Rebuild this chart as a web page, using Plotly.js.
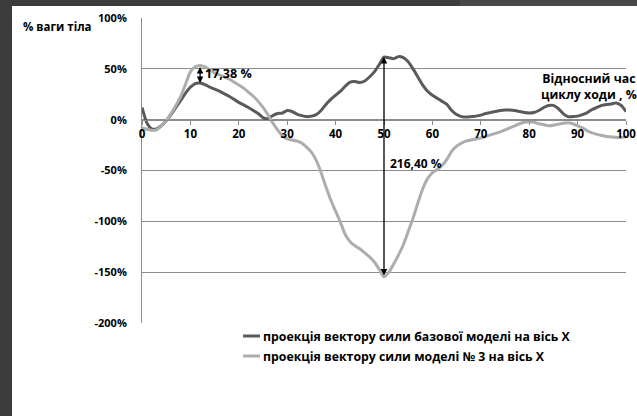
<!DOCTYPE html>
<html>
<head>
<meta charset="utf-8">
<script src="https://cdn.plot.ly/plotly-3.0.1.min.js"></script>
<style>
  html, body { margin: 0; padding: 0; background: #ffffff; overflow: hidden; width: 637px; height: 416px; }
  * { scrollbar-width: none; }
  ::-webkit-scrollbar { display: none; width: 0; height: 0; }
  #wrap { position: relative; width: 637px; height: 416px; overflow: hidden; }
  #chart { position: absolute; left: 0; top: 0; width: 637px; height: 416px; overflow: hidden; }
  .edge { position: absolute; background: #3c3c3c; }
  #edge-left { left: 0; top: 0; width: 12px; height: 416px; }
  #edge-top { left: 0; top: 0; width: 460px; height: 6px; }
  #edge-top-right { left: 460px; top: 0; width: 177px; height: 6px; background: #484848; }
</style>
</head>
<body>
<div id="wrap">
  <div id="chart"></div>
  <div class="edge" id="edge-left"></div>
  <div class="edge" id="edge-top"></div>
  <div class="edge" id="edge-top-right"></div>
</div>
<script>
// Gait cycle, % (0..100)
const cyclePct = Array.from({length: 101}, (_, i) => i);

// Force vector projection on X axis, base model (% of body weight)
const baseModel = [
  12, -3, -9, -9, -6, -1, 5, 12, 19, 26,
  32, 35.5, 36, 34.5, 32, 30, 28, 25.5, 23, 20,
  17, 14.5, 12, 9, 6, 2, 1, 4, 6, 6.5,
  9, 8, 5.5, 4, 3, 3.5, 5, 9, 15, 20,
  24, 28, 33, 37, 37.5, 36.5, 38, 42, 47, 54,
  61.6, 61, 60, 62, 61, 57, 50, 42, 34, 28,
  24, 21, 18, 15, 9, 5, 3, 2.5, 3, 3.5,
  4.5, 6, 7, 8, 9, 9.5, 9.5, 9, 8, 7,
  6.5, 7, 9, 12, 14, 14, 11, 6, 3, 3,
  3.5, 5, 7, 10, 12, 14, 15, 15.5, 16.5, 14,
  8
];

// Force vector projection on X axis, model No. 3 (% of body weight)
const model3 = [
  -8, -9.5, -10.5, -10, -6, -1, 6, 14, 23, 35,
  47, 52, 53.38, 52, 49, 46, 44, 42, 40, 37,
  34, 31, 27, 23, 18, 12, 5, -3, -10, -16,
  -19, -20, -21, -23, -27, -32, -40, -52, -66, -79,
  -90, -101, -113, -120, -124, -127, -131, -135, -140, -147,
  -154.8, -150, -142, -133, -123, -110, -97, -82, -68, -58,
  -52, -49, -45, -39, -31, -26, -23, -21, -20, -19,
  -18, -16.5, -15, -13.5, -12, -10, -8, -6, -4, -2.5,
  -2, -2.5, -4, -5, -6, -5.5, -4.5, -3.5, -3, -4,
  -6, -8, -11, -13, -14.5, -15.5, -16.5, -17, -17.5, -17.5,
  -17
];

const seriesNames = [
  'проекція вектору сили базової моделі на вісь X',
  'проекція вектору сили моделі № 3 на вісь X'
];
const seriesColors = ['#5a5a5a', '#adadad'];

const xTicks = [0, 10, 20, 30, 40, 50, 60, 70, 80, 90, 100];
const yTicks = [-200, -150, -100, -50, 0, 50, 100];
const yTickText = ['-200%', '-150%', '-100%', '-50%', '0%', '50%', '100%'];

// Points where the gap between the two curves is marked
const gapSmallX = 12;
const gapLargeX = 50;

const FONT = '"Open Sans", "DejaVu Sans", sans-serif';
const BOLD = 700;

// Plot area in page pixels, used to place the key below the plot
const M = {l: 142, r: 11, t: 18, b: 93};
const PW = 637 - M.l - M.r, PH = 416 - M.t - M.b;
const px2x = (px) => (px - M.l) / PW;
const py2y = (py) => (416 - M.b - py) / PH;

const traces = [baseModel, model3].map((vals, k) => ({
  x: cyclePct, y: vals, name: seriesNames[k], type: 'scatter', mode: 'lines',
  line: {color: seriesColors[k], width: 3, shape: 'spline', smoothing: 0.6},
  showlegend: false
}));

function gapArrow(xv) {
  const i = cyclePct.indexOf(xv);
  return {
    x: xv, y: baseModel[i], ax: xv, ay: model3[i],
    xref: 'x', yref: 'y', axref: 'x', ayref: 'y',
    text: '', showarrow: true, arrowside: 'end+start',
    arrowhead: 2, arrowsize: 1, arrowwidth: 1.3, arrowcolor: '#000000',
    standoff: 0, startstandoff: 0
  };
}
function gapValue(xv) {
  const i = cyclePct.indexOf(xv);
  return Math.abs(baseModel[i] - model3[i]).toFixed(2).replace('.', ',') + ' %';
}

// Key below the plot: short line sample + series name
const keyRows = [336, 356];
const keyShapes = seriesNames.map((_, k) => ({
  type: 'line', xref: 'paper', yref: 'paper',
  x0: px2x(243), x1: px2x(260), y0: py2y(keyRows[k]), y1: py2y(keyRows[k]),
  line: {color: seriesColors[k], width: 3}
}));
const keyLabels = seriesNames.map((name, k) => ({
  x: px2x(261), y: py2y(keyRows[k]), xref: 'paper', yref: 'paper',
  xanchor: 'left', yanchor: 'middle', text: name, showarrow: false,
  font: {family: FONT, size: 12.3, color: '#000000', weight: BOLD}
}));

const layout = {
  width: 637, height: 416,
  margin: M,
  paper_bgcolor: '#ffffff',
  plot_bgcolor: '#ffffff',
  font: {family: FONT, size: 11, color: '#000000'},
  showlegend: false,
  xaxis: {
    range: [0, 100], tickvals: xTicks, ticktext: xTicks.map(String),
    anchor: 'free', position: 2 / 3,
    showline: true, linecolor: '#8c8c8c', linewidth: 1,
    ticks: 'outside', ticklen: 4, tickcolor: '#8c8c8c',
    showgrid: false, zeroline: false,
    tickfont: {family: FONT, size: 11.5, color: '#000000', weight: BOLD}
  },
  yaxis: {
    range: [-200, 100], tickvals: yTicks, ticktext: yTickText,
    showline: true, linecolor: '#8c8c8c', linewidth: 1,
    ticks: '', ticklabelstandoff: 12,
    showgrid: true, gridcolor: '#8c8c8c', gridwidth: 1, zeroline: false,
    tickfont: {family: FONT, size: 11, color: '#000000', weight: BOLD}
  },
  shapes: keyShapes,
  annotations: [
    gapArrow(gapSmallX),
    gapArrow(gapLargeX),
    {x: gapSmallX + 0.6, y: 45, xref: 'x', yref: 'y', xanchor: 'left', yanchor: 'middle',
     text: gapValue(gapSmallX), showarrow: false, font: {family: FONT, size: 12.5, weight: BOLD}},
    {x: gapLargeX + 0.8, y: -43, xref: 'x', yref: 'y', xanchor: 'left', yanchor: 'middle',
     text: gapValue(gapLargeX), showarrow: false, font: {family: FONT, size: 12, weight: BOLD}},
    {x: px2x(57), y: py2y(26), xref: 'paper', yref: 'paper', xanchor: 'center', yanchor: 'middle',
     text: '% ваги тіла', showarrow: false, font: {family: FONT, size: 11.5, weight: BOLD}},
    {x: px2x(589), y: py2y(86), xref: 'paper', yref: 'paper', xanchor: 'center', yanchor: 'middle',
     text: 'Відносний час<br>циклу ходи , %', showarrow: false, align: 'center',
     font: {family: FONT, size: 12.3, weight: BOLD}}
  ].concat(keyLabels)
};

Plotly.newPlot('chart', traces, layout, {displayModeBar: false, staticPlot: true});
</script>
</body>
</html>
